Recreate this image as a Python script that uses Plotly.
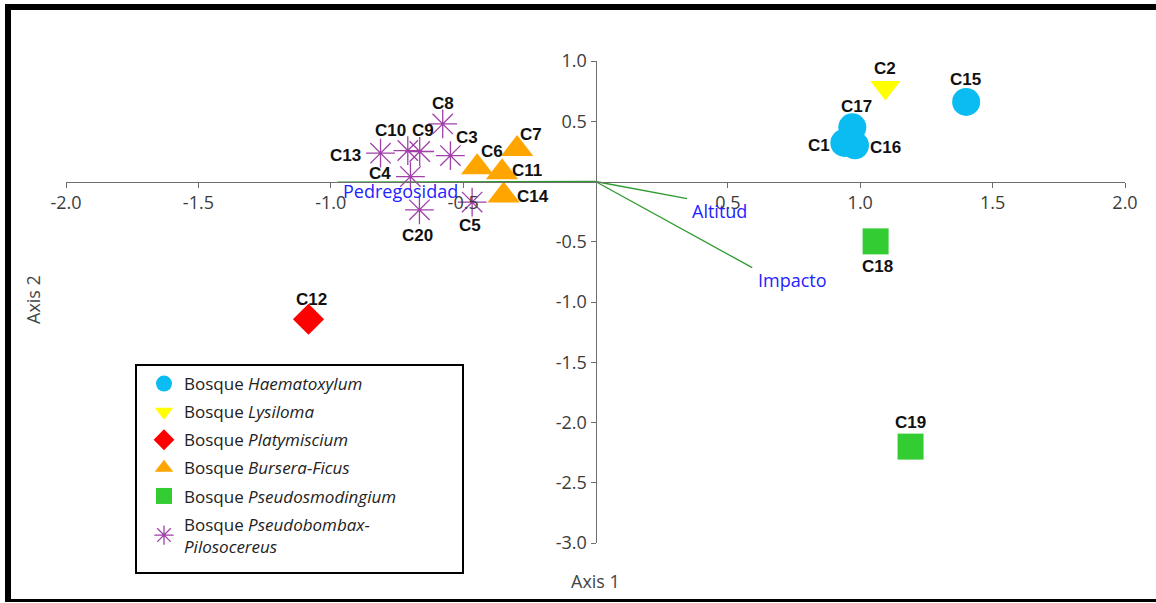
import plotly.graph_objects as go

# ---- ordination scores per site (Axis 1, Axis 2), grouped by forest type ----
haema_sites = ["C15", "C17", "C1", "C16"]
haema_x = [1.40, 0.97, 0.94, 0.98]
haema_y = [0.66, 0.45, 0.32, 0.30]

lysi_sites = ["C2"]
lysi_x = [1.095]
lysi_y = [0.78]

platy_sites = ["C12"]
platy_x = [-1.084]
platy_y = [-1.143]

bursera_sites = ["C6", "C7", "C11", "C14"]
bursera_x = [-0.447, -0.296, -0.353, -0.347]
bursera_y = [0.118, 0.27, 0.077, -0.116]

pseudosm_sites = ["C18", "C19"]
pseudosm_x = [1.058, 1.19]
pseudosm_y = [-0.497, -2.20]

pseudob_sites = ["C8", "C10", "C9", "C3", "C13", "C4", "C20", "C5"]
pseudob_x = [-0.577, -0.709, -0.664, -0.548, -0.812, -0.699, -0.665, -0.466]
pseudob_y = [0.478, 0.257, 0.249, 0.215, 0.235, 0.041, -0.235, -0.171]

# ---- environmental vectors (biplot arrows from the origin) ----
env_names = ["Pedregosidad", "Altitud", "Impacto"]
env_x = [-0.975, 0.346, 0.592]
env_y = [-0.005, -0.143, -0.715]

# ---- axis ticks ----
x_ticks = [-2.0, -1.5, -1.0, -0.5, 0.5, 1.0, 1.5, 2.0]
y_ticks = [1.0, 0.5, -0.5, -1.0, -1.5, -2.0, -2.5, -3.0]

# ---- figure geometry (pixels) ----
W, H = 1156, 603
ML, MR, MT, MB = 66, 31, 61, 60
PW, PH = W - ML - MR, H - MT - MB


def px(xp):
    return (xp - ML) / PW


def py(yp):
    return (H - MB - yp) / PH


# label offsets (pixels) for each site label relative to its marker
label_shift = {
    "C15": (-1, 22), "C17": (4, 21), "C1": (-25, -3), "C16": (31, -2),
    "C2": (0, 19), "C12": (3, 20), "C6": (15, 16), "C7": (14, 14),
    "C11": (25, 2), "C14": (29, -1), "C18": (2, -25), "C19": (0, 24),
    "C8": (0, 20), "C10": (-17, 20), "C9": (3, 21), "C3": (17, 18),
    "C13": (-35, -2), "C4": (-30, 3), "C20": (-2, -26), "C5": (-2, -23),
}

env_shift = {"Pedregosidad": (4, -9), "Altitud": (3, -12), "Impacto": (4, -12)}

fig = go.Figure()

# environmental vectors
for name, ex, ey in zip(env_names, env_x, env_y):
    fig.add_trace(go.Scatter(
        x=[0, ex], y=[0, ey], mode="lines",
        line=dict(color="#2e9a2e", width=1.3),
        showlegend=False, hoverinfo="skip",
    ))

groups = [
    ("Bosque <i>Haematoxylum</i>", haema_sites, haema_x, haema_y,
     dict(symbol="circle", size=28, color="#0abcf2", line=dict(width=0))),
    ("Bosque <i>Lysiloma</i>", lysi_sites, lysi_x, lysi_y,
     dict(symbol="triangle-down", size=26, color="#ffff00", line=dict(width=0))),
    ("Bosque <i>Platymiscium</i>", platy_sites, platy_x, platy_y,
     dict(symbol="diamond", size=24, color="#ff0000", line=dict(width=0))),
    ("Bosque <i>Bursera-Ficus</i>", bursera_sites, bursera_x, bursera_y,
     dict(symbol="triangle-up", size=28, color="#ffa500", line=dict(width=0))),
    ("Bosque <i>Pseudosmodingium</i>", pseudosm_sites, pseudosm_x, pseudosm_y,
     dict(symbol="square", size=26, color="#33cc33", line=dict(width=0))),
    ("Bosque <i>Pseudobombax-</i><br><i>Pilosocereus</i>", pseudob_sites, pseudob_x, pseudob_y,
     dict(symbol="asterisk-open", size=24, color="#a040a8", line=dict(width=1.3, color="#a040a8"))),
]

for i, (name, sites, xs, ys, mk) in enumerate(groups):
    fig.add_trace(go.Scatter(
        x=xs, y=ys, mode="markers", name=name, marker=mk,
        text=sites, legendgroup=f"g{i}",
    ))

annotations = []
for name, sites, xs, ys, mk in groups:
    for s, xv, yv in zip(sites, xs, ys):
        dx, dy = label_shift[s]
        annotations.append(dict(
            x=xv, y=yv, xref="x", yref="y", text=f"<b>{s}</b>", showarrow=False,
            xshift=dx, yshift=dy,
            font=dict(family="Liberation Sans, Arial", size=17, color="#111111"),
        ))

for name, ex, ey in zip(env_names, env_x, env_y):
    dx, dy = env_shift[name]
    annotations.append(dict(
        x=ex, y=ey, xref="x", yref="y", text=name, showarrow=False,
        xanchor="left", xshift=dx, yshift=dy,
        font=dict(family="Open Sans", size=18, color="#2323ff"),
    ))

# axis titles
annotations.append(dict(
    x=px(595), y=py(581), xref="paper", yref="paper", text="Axis 1", showarrow=False,
    xanchor="center", yanchor="middle",
    font=dict(family="Open Sans", size=18, color="#444444"),
))
annotations.append(dict(
    x=px(33), y=py(300), xref="paper", yref="paper", text="Axis 2", showarrow=False,
    xanchor="center", yanchor="middle",
    textangle=-90, font=dict(family="Open Sans", size=18, color="#444444"),
))

# outer frame and legend box
shapes = [
    dict(type="rect", xref="paper", yref="paper", x0=px(5), x1=px(11), y0=py(602), y1=py(4),
         fillcolor="black", line=dict(width=0), layer="above"),
    dict(type="rect", xref="paper", yref="paper", x0=px(5), x1=px(1156), y0=py(10), y1=py(4),
         fillcolor="black", line=dict(width=0), layer="above"),
    dict(type="rect", xref="paper", yref="paper", x0=px(5), x1=px(1156), y0=py(602), y1=py(599),
         fillcolor="black", line=dict(width=0), layer="above"),
    dict(type="rect", xref="paper", yref="paper", x0=px(136), x1=px(463), y0=py(573), y1=py(365),
         fillcolor="white", line=dict(color="black", width=2), layer="below"),
]

tick_font = dict(family="Open Sans", size=18, color="#3c3c3c")

fig.update_layout(
    width=W, height=H,
    margin=dict(l=ML, r=MR, t=MT, b=MB),
    paper_bgcolor="white", plot_bgcolor="rgba(0,0,0,0)",
    xaxis=dict(
        range=[-2, 2], anchor="free", position=0.75, side="bottom",
        showgrid=False, zeroline=False, showline=True, linecolor="#6e6e6e", linewidth=1,
        ticks="outside", ticklen=5, tickcolor="#6e6e6e",
        tickvals=x_ticks, ticktext=[f"{v:.1f}" for v in x_ticks], tickfont=tick_font,
    ),
    yaxis=dict(
        range=[-3, 1], anchor="free", position=0.5, side="left",
        showgrid=False, zeroline=False, showline=True, linecolor="#6e6e6e", linewidth=1,
        ticks="outside", ticklen=5, tickcolor="#6e6e6e",
        tickvals=y_ticks, ticktext=[f"{v:.1f}" for v in y_ticks], tickfont=tick_font,
    ),
    legend=dict(
        x=px(144), y=py(366), xanchor="left", yanchor="top",
        borderwidth=0, bgcolor="rgba(0,0,0,0)",
        font=dict(family="Open Sans", size=17, color="#222222"),
        itemsizing="trace", tracegroupgap=3,
    ),
    annotations=annotations,
    shapes=shapes,
    showlegend=True,
)

fig.write_html("out.html")
